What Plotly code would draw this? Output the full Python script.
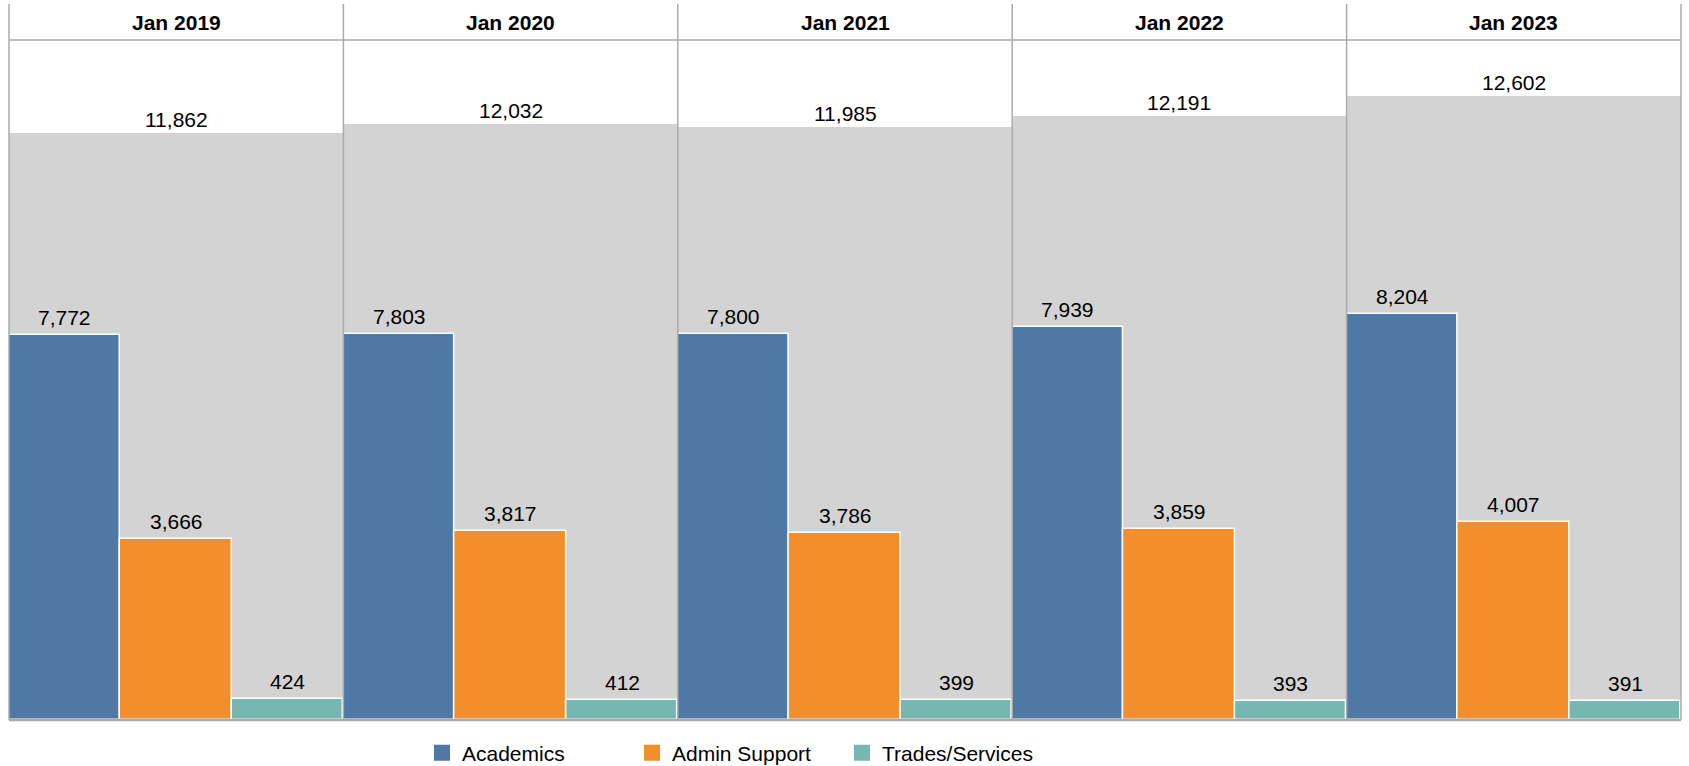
import plotly.graph_objects as go
from plotly.subplots import make_subplots

periods = ["Jan 2019", "Jan 2020", "Jan 2021", "Jan 2022", "Jan 2023"]
series_names = ["Academics", "Admin Support", "Trades/Services"]
academics = [7772, 7803, 7800, 7939, 8204]
admin_support = [3666, 3817, 3786, 3859, 4007]
trades_services = [424, 412, 399, 393, 391]
totals = [11862, 12032, 11985, 12191, 12602]

colors = ["#4E79A7", "#F28E2B", "#76B7B2"]
gray = "#D3D3D3"
line_col = "#ABABAB"
FONT = "Liberation Sans, Arial, sans-serif"
FS = 21

W, H = 1689, 766
ML, MR, MT, MB = 9, 8, 40, 46
plot_h = H - MT - MB
header_h = 36

n = len(periods)
fig = make_subplots(rows=1, cols=n, horizontal_spacing=0, shared_yaxes=False)

series_vals = [academics, admin_support, trades_services]
ymax = max(totals) * 1.09


def ax(col, letter):
    return f"{letter}{'' if col == 1 else col}"


for i in range(n):
    col = i + 1
    # background total bar
    fig.add_trace(go.Bar(x=[1], y=[totals[i]], width=[3], marker=dict(color=gray, line=dict(width=0)),
                         showlegend=False, hoverinfo="skip"), row=1, col=col)
    for s, name in enumerate(series_names):
        fig.add_trace(go.Bar(x=[s], y=[series_vals[s][i]], width=[1], name=name,
                             marker=dict(color=colors[s], line=dict(color="white", width=1.5)),
                             legendgroup=name, showlegend=False), row=1, col=col)
        fig.add_annotation(x=s, y=series_vals[s][i], xref=ax(col, "x"), yref=ax(col, "y"),
                           text=f"{series_vals[s][i]:,}", showarrow=False,
                           xanchor="center", yanchor="bottom", yshift=4,
                           font=dict(family=FONT, size=FS, color="#000000"))
    fig.add_annotation(x=1, y=totals[i], xref=ax(col, "x"), yref=ax(col, "y"),
                       text=f"{totals[i]:,}", showarrow=False, xanchor="center",
                       yanchor="bottom", yshift=0, bgcolor="white",
                       font=dict(family=FONT, size=FS, color="#000000"))
    # header label
    fig.add_annotation(x=(i + 0.5) / n, y=1 + (header_h / 2) / plot_h, xref="paper", yref="paper",
                       text=f"<b>{periods[i]}</b>", showarrow=False,
                       xanchor="center", yanchor="middle",
                       font=dict(family=FONT, size=FS, color="#000000"))
    fig.update_xaxes(range=[-0.5, 2.5], showticklabels=False, showgrid=False, zeroline=False,
                     showline=False, fixedrange=True, row=1, col=col)
    fig.update_yaxes(range=[0, ymax], showticklabels=False, showgrid=False, zeroline=False,
                     showline=False, row=1, col=col)

# legend entries (square swatches)
for s, name in enumerate(series_names):
    fig.add_trace(go.Scatter(x=[None], y=[None], mode="markers", name=name, legendgroup=name,
                             marker=dict(symbol="square", size=16, color=colors[s]),
                             showlegend=True, hoverinfo="skip"), row=1, col=1)

shapes = []
top = 1 + header_h / plot_h
for i in range(n + 1):
    shapes.append(dict(type="line", xref="paper", yref="paper", x0=i / n, x1=i / n, y0=0, y1=top,
                       line=dict(color=line_col, width=1.5), layer="above"))
shapes.append(dict(type="line", xref="paper", yref="paper", x0=0, x1=1, y0=1, y1=1,
                   line=dict(color=line_col, width=1.5), layer="above"))
shapes.append(dict(type="line", xref="paper", yref="paper", x0=0, x1=1, y0=0, y1=0,
                   line=dict(color=line_col, width=2.5), layer="above"))

fig.update_layout(
    width=W, height=H,
    margin=dict(l=ML, r=MR, t=MT, b=MB, pad=0, autoexpand=False),
    barmode="overlay", bargap=0,
    paper_bgcolor="white", plot_bgcolor="white",
    font=dict(family=FONT, size=FS, color="#000000"),
    shapes=shapes,
    legend=dict(orientation="h", x=(422 - ML) / (W - ML - MR), xanchor="left",
                y=-(753 - (H - MB)) / plot_h, yanchor="middle",
                entrywidth=165, entrywidthmode="pixels",
                font=dict(family=FONT, size=FS, color="#000000"),
                bgcolor="rgba(0,0,0,0)"),
)

fig.write_html("out.html")
